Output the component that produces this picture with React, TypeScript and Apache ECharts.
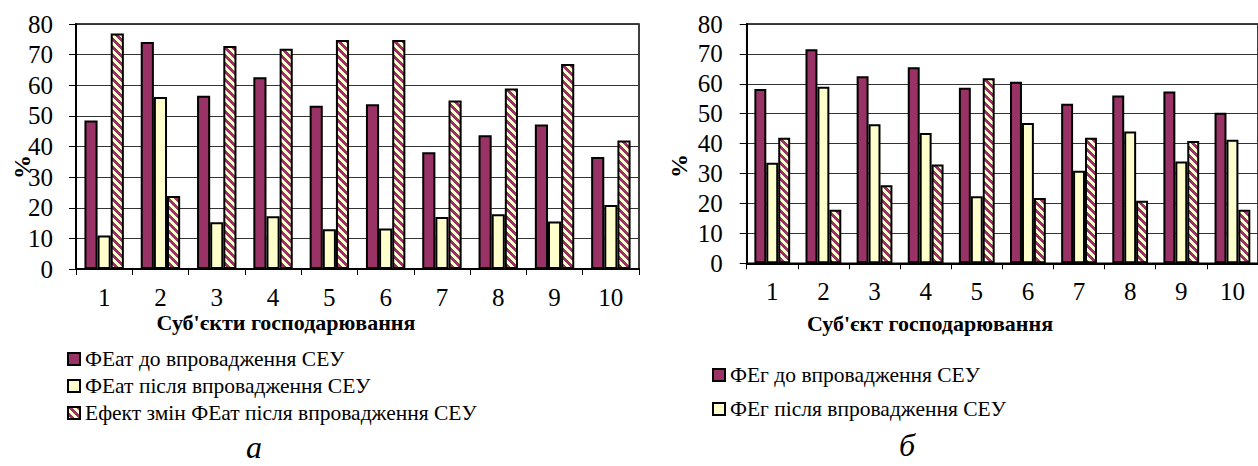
import React, { useEffect, useRef } from 'react';
import * as echarts from 'echarts';

const categories = ['1', '2', '3', '4', '5', '6', '7', '8', '9', '10'];
const yTicks = [0, 10, 20, 30, 40, 50, 60, 70, 80];

const featBefore = [48.5, 74.1, 56.6, 62.6, 53.3, 53.8, 38.1, 43.7, 47.2, 36.6];
const featAfter = [10.9, 56.2, 15.3, 17.2, 13.0, 13.2, 17.0, 17.9, 15.5, 20.9];
const featEffect = [76.9, 23.8, 72.8, 71.9, 74.8, 74.8, 55.0, 58.9, 66.9, 42.0];

const fegBefore = [58.3, 71.6, 62.5, 65.5, 58.7, 60.7, 53.3, 56.1, 57.4, 50.3];
const fegAfter = [33.6, 59.0, 46.5, 43.6, 22.4, 46.9, 30.9, 44.1, 34.0, 41.3];
const fegEffect = [42.0, 17.9, 26.1, 33.0, 61.9, 21.8, 42.0, 20.9, 40.9, 17.9];

const namesA = [
  'ФЕат до впровадження СЕУ',
  'ФЕат після впровадження СЕУ',
  'Ефект змін ФЕат після впровадження СЕУ',
];
const namesB = [
  'ФЕг до впровадження СЕУ',
  'ФЕг після впровадження СЕУ',
  'Ефект змін ФЕг після впровадження СЕУ',
];

const MAROON = '#993366';
const YELLOW = '#FFFFCC';
const FONT = 'Liberation Serif, Times New Roman, serif';

function makeHatch(): HTMLCanvasElement {
  const c = document.createElement('canvas');
  c.width = 8;
  c.height = 8;
  const ctx = c.getContext('2d')!;
  ctx.fillStyle = YELLOW;
  ctx.fillRect(0, 0, 8, 8);
  ctx.fillStyle = MAROON;
  for (let y = 0; y < 8; y++) {
    for (let x = 0; x < 8; x++) {
      if ((((x - y) % 8) + 8) % 8 < 4) ctx.fillRect(x, y, 1, 1);
    }
  }
  return c;
}

export default function App() {
  const ref = useRef<HTMLDivElement>(null);

  useEffect(() => {
    if (!ref.current) return;
    const chart = echarts.init(ref.current, null, { renderer: 'svg' });
    const hatch = { image: makeHatch(), repeat: 'repeat', imageWidth: 8, imageHeight: 8 } as any;

    const border = { borderColor: '#000', borderWidth: 2 };
    const barCommon = { type: 'bar' as const, barGap: '0%', barCategoryGap: '30%' };

    const xAxisCommon = {
      type: 'category' as const,
      data: categories,
      axisLine: { lineStyle: { color: '#000', width: 2 } },
      axisTick: { show: true, length: 6, lineStyle: { color: '#000', width: 1 } },
      axisLabel: { fontFamily: FONT, fontSize: 25, color: '#000', margin: 16 },
    };
    const yAxisCommon = {
      type: 'value' as const,
      min: yTicks[0],
      max: yTicks[yTicks.length - 1],
      interval: 10,
      axisLine: { show: true, lineStyle: { color: '#000', width: 2 } },
      axisTick: { show: true, length: 7, lineStyle: { color: '#000', width: 1 } },
      splitLine: { show: true, lineStyle: { color: '#333', width: 1 } },
    };

    const textStyle = { fontFamily: FONT, fontSize: 21.5, color: '#000' };

    chart.setOption({
      animation: false,
      backgroundColor: '#fff',
      grid: [
        { left: 76, top: 24, width: 563, height: 245, show: true, borderColor: '#000', borderWidth: 1.5, backgroundColor: 'transparent' },
        { left: 746.7, top: 24, width: 519, height: 239.3, show: true, borderColor: '#000', borderWidth: 1.5, backgroundColor: 'transparent' },
      ],
      xAxis: [
        { ...xAxisCommon, gridIndex: 0 },
        { ...xAxisCommon, gridIndex: 1 },
      ],
      yAxis: [
        { ...yAxisCommon, gridIndex: 0, axisLabel: { fontFamily: FONT, fontSize: 25, color: '#000', margin: 23 } },
        { ...yAxisCommon, gridIndex: 1, axisLabel: { fontFamily: FONT, fontSize: 25, color: '#000', margin: 24 } },
      ],
      legend: [
        {
          data: namesA,
          orient: 'vertical',
          left: 62,
          top: 343,
          itemWidth: 12,
          itemHeight: 12,
          itemGap: 5,
          icon: 'rect',
          textStyle,
        },
        {
          data: namesB.slice(0, 2),
          orient: 'vertical',
          left: 707,
          top: 359,
          itemWidth: 12,
          itemHeight: 12,
          itemGap: 12,
          icon: 'rect',
          textStyle,
        },
      ],
      series: [
        { ...barCommon, name: namesA[0], xAxisIndex: 0, yAxisIndex: 0, data: featBefore, itemStyle: { color: MAROON, ...border } },
        { ...barCommon, name: namesA[1], xAxisIndex: 0, yAxisIndex: 0, data: featAfter, itemStyle: { color: YELLOW, ...border } },
        { ...barCommon, name: namesA[2], xAxisIndex: 0, yAxisIndex: 0, data: featEffect, itemStyle: { color: hatch, ...border } },
        { ...barCommon, name: namesB[0], xAxisIndex: 1, yAxisIndex: 1, data: fegBefore, itemStyle: { color: MAROON, ...border } },
        { ...barCommon, name: namesB[1], xAxisIndex: 1, yAxisIndex: 1, data: fegAfter, itemStyle: { color: YELLOW, ...border } },
        { ...barCommon, name: namesB[2], xAxisIndex: 1, yAxisIndex: 1, data: fegEffect, itemStyle: { color: hatch, ...border } },
      ],
      graphic: [
        {
          type: 'text', x: 286, y: 322,
          style: { text: "Суб'єкти господарювання", fontFamily: FONT, fontWeight: 'bold', fontSize: 22, fill: '#000', align: 'center', verticalAlign: 'middle' },
        },
        {
          type: 'text', x: 930, y: 323,
          style: { text: "Суб'єкт господарювання", fontFamily: FONT, fontWeight: 'bold', fontSize: 22, fill: '#000', align: 'center', verticalAlign: 'middle' },
        },
        {
          type: 'text', x: 22, y: 167, rotation: Math.PI / 2,
          style: { text: '%', fontFamily: FONT, fontWeight: 'bold', fontSize: 24, fill: '#000', align: 'center', verticalAlign: 'middle' },
        },
        {
          type: 'text', x: 679, y: 166, rotation: Math.PI / 2,
          style: { text: '%', fontFamily: FONT, fontWeight: 'bold', fontSize: 24, fill: '#000', align: 'center', verticalAlign: 'middle' },
        },
        {
          type: 'text', x: 254, y: 447,
          style: { text: 'а', fontFamily: FONT, fontStyle: 'italic', fontSize: 32, fill: '#000', align: 'center', verticalAlign: 'middle' },
        },
        {
          type: 'text', x: 907, y: 445,
          style: { text: 'б', fontFamily: FONT, fontStyle: 'italic', fontSize: 32, fill: '#000', align: 'center', verticalAlign: 'middle' },
        },
      ],
    });

    return () => chart.dispose();
  }, []);

  return (
    <div
      ref={ref}
      style={{ position: 'absolute', left: 0, top: 0, width: 1258, height: 466 }}
    />
  );
}
